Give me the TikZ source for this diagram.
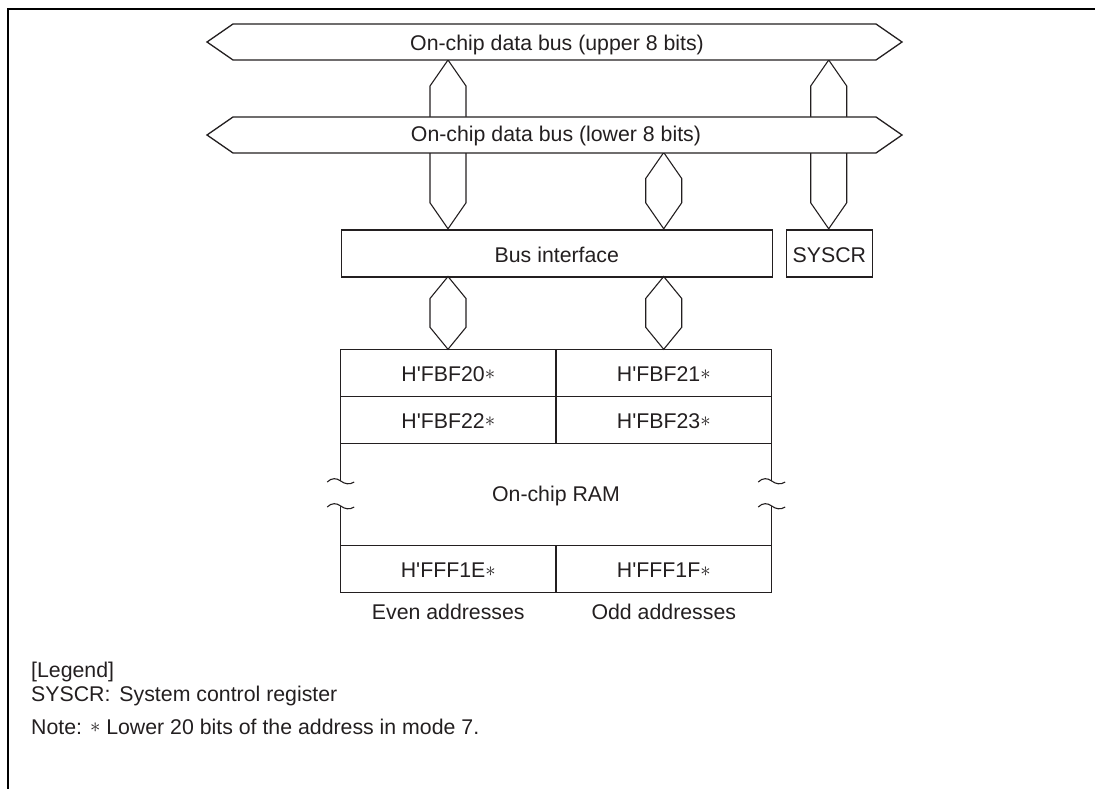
\documentclass[tikz,border=0pt]{standalone}
\usepackage{fontspec}
\setmainfont{Liberation Sans}
\usetikzlibrary{calc}
\definecolor{ink}{HTML}{231F20}
\newcommand\hexconn[3]{\draw[conn] (#1) -- ($(#1)+(18,#3)$) -- ($(#2)+(18,-#3)$) -- (#2) -- ($(#2)+(-18,-#3)$) -- ($(#1)+(-18,#3)$) -- cycle;}
\newcommand\brkmark[1]{\draw[conn] ($(#1)+(-13.5,1)$) .. controls ($(#1)+(-9,-3.5)$) and ($(#1)+(-4,-3)$) .. (#1) .. controls ($(#1)+(4,3)$) and ($(#1)+(9,4)$) .. ($(#1)+(13.5,1)$);}
\newcommand\fnstar{\raisebox{1.5pt}{$\ast$}}
\begin{document}
\begin{tikzpicture}[x=1pt,y=-1pt,
  every node/.style={font=\fontsize{21.3}{25}\selectfont, text=ink, inner sep=0pt},
  conn/.style={draw=ink, line width=1.1pt},
  bus/.style={draw=ink, fill=white, line width=1.3pt},
  box/.style={draw=ink, line width=1.3pt}]
\useasboundingbox (0,0) rectangle (1095,789);
\draw[line width=2pt, black] (8.3,789) -- (8.3,9) -- (1095,9);

% connector end points
\coordinate (ubA) at (448,60);
\coordinate (ubS) at (828.7,60);
\coordinate (lbM) at (663.7,152.5);
\coordinate (biA) at (448,228.8);
\coordinate (biB) at (663.7,228.8);
\coordinate (sysT) at (828.7,228.8);
\coordinate (biC) at (448,276.5);
\coordinate (biD) at (663.7,276.5);
\coordinate (ramA) at (448,349.3);
\coordinate (ramB) at (663.7,349.3);

\hexconn{ubA}{biA}{26}
\hexconn{ubS}{sysT}{26}
\hexconn{lbM}{biB}{26}
\hexconn{biC}{ramA}{22}
\hexconn{biD}{ramB}{22}

% buses
\draw[bus] (207,42) -- (233,24) -- (876,24) -- (902,42) -- (876,60) -- (233,60) -- cycle;
\node[anchor=base] (ub) at (557,50.5) {On-chip data bus (upper 8 bits)};
\draw[bus] (207,135) -- (233,117) -- (876,117) -- (902,135) -- (876,153) -- (233,153) -- cycle;
\node[anchor=base] (lb) at (556,142) {On-chip data bus (lower 8 bits)};

% bus interface and SYSCR
\node[box, anchor=north west, minimum width=431pt, minimum height=47pt] (bi) at (340.7,229.3) {};
\node[anchor=base] (bit) at ($(bi.center)+(0,9)$) {Bus interface};
\node[box, anchor=north west, minimum width=86pt, minimum height=47pt] (sys) at (785.7,229.3) {};
\node[anchor=base] (syst) at ($(sys.center)+(0,9)$) {SYSCR};

% RAM table
\draw[box] (340.7,481) -- (340.7,349.3) -- (771.7,349.3) -- (771.7,481);
\draw[box] (340.7,506) -- (340.7,592.3) -- (771.7,592.3) -- (771.7,506);
\draw[box] (340.7,396.7) -- (771.7,396.7) (340.7,443.3) -- (771.7,443.3) (340.7,545.5) -- (771.7,545.5);
\draw[box] (556,349.3) -- (556,443.3) (556,545.5) -- (556,592.3);
\coordinate (bl1) at (340.7,481); \coordinate (bl2) at (340.7,506);
\coordinate (br1) at (771.7,481); \coordinate (br2) at (771.7,506);
\brkmark{bl1}\brkmark{bl2}\brkmark{br1}\brkmark{br2}

\node[anchor=base] (c1) at (448.3,381) {H\textquotesingle FBF20\fnstar};
\node[anchor=base] (c2) at (663.8,381) {H\textquotesingle FBF21\fnstar};
\node[anchor=base] (c3) at (448.3,428) {H\textquotesingle FBF22\fnstar};
\node[anchor=base] (c4) at (663.8,428) {H\textquotesingle FBF23\fnstar};
\node[anchor=base] (ram) at (556,501.5) {On-chip RAM};
\node[anchor=base] (c5) at (448.3,577.5) {H\textquotesingle FFF1E\fnstar};
\node[anchor=base] (c6) at (663.8,577.5) {H\textquotesingle FFF1F\fnstar};
\node[anchor=base] (ev) at (448.3,619) {Even addresses};
\node[anchor=base] (od) at (663.8,619) {Odd addresses};

% legend
\node[anchor=base west] (lg) at (31,677) {[Legend]};
\node[anchor=base west] (ls) at (31,701) {SYSCR:\hspace{9pt}System control register};
\node[anchor=base west] (nt) at (31,734) {Note: \fnstar\ Lower 20 bits of the address in mode 7.};
\end{tikzpicture}
\end{document}
